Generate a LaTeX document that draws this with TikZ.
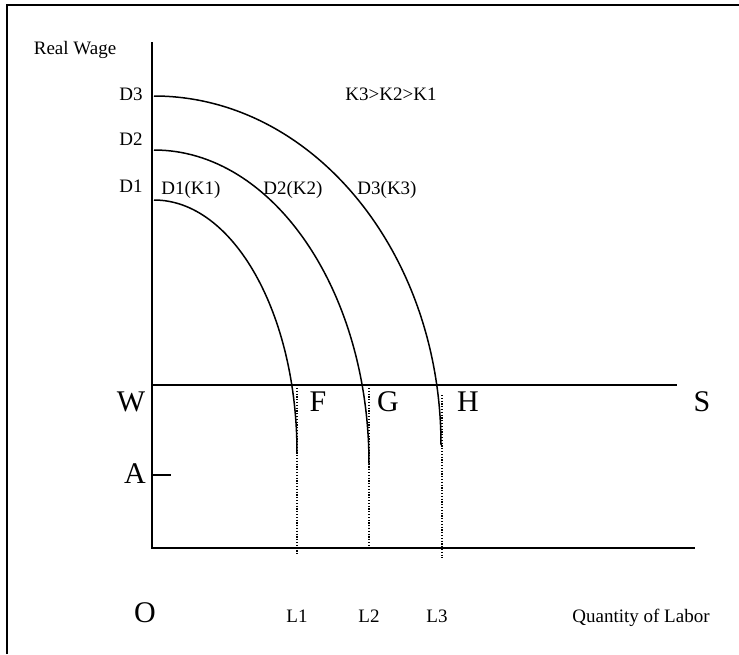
\documentclass[tikz,border=0pt]{standalone}
\usepackage{fontspec}
\setmainfont{Liberation Serif}
\usepackage{tikz}
\usetikzlibrary{positioning}

\begin{document}
\begin{tikzpicture}[
  x=1pt, y=-1pt,
  every node/.style={inner sep=0pt, anchor=base},
  small/.style={font=\fontsize{19}{21}\selectfont},
  big/.style={font=\fontsize{30}{32}\selectfont},
  axis/.style={line width=1.8pt},
  curve/.style={line width=1.5pt},
  guide/.style={line width=1.2pt, dash pattern=on 1.2pt off 1.6pt},
]
\useasboundingbox (0,0) rectangle (739,654);
% frame
\draw[line width=1.8pt] (7,654) -- (7,5) -- (739,5);

% axes
\coordinate (o) at (152,548);
\coordinate (ytop) at (152,42);
\coordinate (xend) at (695,548);
\coordinate (w) at (152,385);
\coordinate (s) at (677,385);
\coordinate (a) at (152,475);
\coordinate (atick) at (171,475);
\draw[axis] (ytop) -- (o) -- (xend);
\draw[axis] (w) -- (s);
\draw[axis] (a) -- (atick);

% demand curves
\coordinate (d1top) at (154,200);
\coordinate (d1end) at (297,453);
\coordinate (d2top) at (154,150);
\coordinate (d2end) at (369,464);
\coordinate (d3top) at (154,96);
\coordinate (d3end) at (441,445);
\draw[curve] (d1top) .. controls (233,200) and (297,313) .. (d1end);
\draw[curve] (d2top) .. controls (273,150) and (369,291) .. (d2end);
\draw[curve] (d3top) .. controls (312,96) and (441,252) .. (d3end);

% employment levels
\coordinate (l1top) at (297,388);
\coordinate (l1bot) at (297,555);
\coordinate (l2top) at (369,388);
\coordinate (l2bot) at (369,548);
\coordinate (l3top) at (442,395);
\coordinate (l3bot) at (442,558);
\draw[guide] (l1top) -- (l1bot);
\draw[guide] (l2top) -- (l2bot);
\draw[guide] (l3top) -- (l3bot);

% labels
\node[small] (realwage) at (75,54) {Real Wage};
\node[small] (lbd3) at (131,100) {D3};
\node[small] (lbd2) at (131,145) {D2};
\node[small] (lbd1) at (131,192) {D1};
\node[small] (kk) at (391,100) {K3>K2>K1};
\node[small] (dk1) at (191,194) {D1(K1)};
\node[small] (dk2) at (293,194) {D2(K2)};
\node[small] (dk3) at (387,194) {D3(K3)};
\node[big] (lbw) at (131,411) {W};
\node[big] (lbf) at (318,411) {F};
\node[big] (lbg) at (388,411) {G};
\node[big] (lbh) at (468,411) {H};
\node[big] (lbs) at (702,411) {S};
\node[big] (lba) at (135,483) {A};
\node[big] (lbo) at (145,622) {O};
\node[small] (lbl1) at (297,622) {L1};
\node[small] (lbl2) at (369,622) {L2};
\node[small] (lbl3) at (437,622) {L3};
\node[small] (qty) at (641,622) {Quantity of Labor};
\end{tikzpicture}
\end{document}
